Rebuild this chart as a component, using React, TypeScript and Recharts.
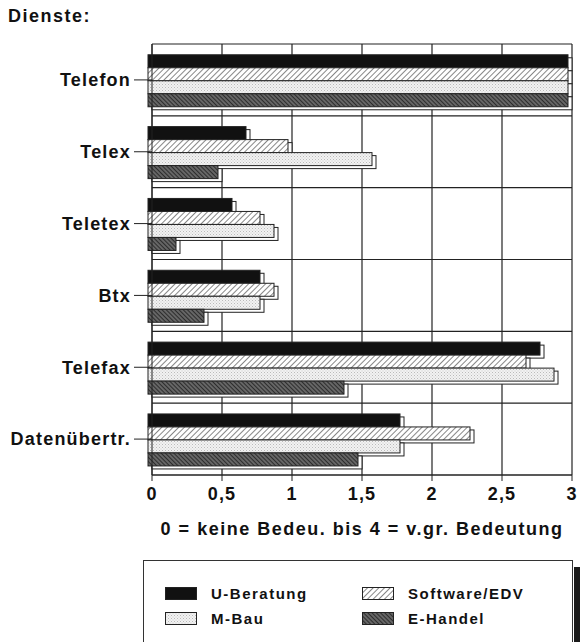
import { BarChart, Bar, XAxis, YAxis, CartesianGrid } from 'recharts'

const DIENSTE = ['Telefon', 'Telex', 'Teletex', 'Btx', 'Telefax', 'Datenübertr.']
const U_BERATUNG = [3, 0.7, 0.6, 0.8, 2.8, 1.8]
const SOFTWARE_EDV = [3, 1.0, 0.8, 0.9, 2.7, 2.3]
const M_BAU = [3, 1.6, 0.9, 0.8, 2.9, 1.8]
const E_HANDEL = [3, 0.5, 0.2, 0.4, 1.4, 1.5]
const X_TICKS = [0, 0.5, 1, 1.5, 2, 2.5, 3]

const SERIES = [
  { key: 'uBeratung', name: 'U-Beratung', fill: '#111' },
  { key: 'software', name: 'Software/EDV', fill: 'url(#hatch-light)' },
  { key: 'mBau', name: 'M-Bau', fill: 'url(#dots)' },
  { key: 'eHandel', name: 'E-Handel', fill: 'url(#hatch-dark)' },
]

const data = DIENSTE.map((d, i) => ({
  dienst: d,
  uBeratung: U_BERATUNG[i],
  software: SOFTWARE_EDV[i],
  mBau: M_BAU[i],
  eHandel: E_HANDEL[i],
}))

const FONT = '"Liberation Sans", Arial, sans-serif'
const TICK_STYLE = { fontSize: 18, fontWeight: 700, fill: '#111', letterSpacing: 1.2 }

function Patterns() {
  return (
    <defs>
      <pattern id="hatch-light" width="4" height="4" patternUnits="userSpaceOnUse" patternTransform="rotate(45)">
        <rect width="4" height="4" fill="#fff" />
        <line x1="0" y1="0" x2="0" y2="4" stroke="#222" strokeWidth="1.1" />
      </pattern>
      <pattern id="dots" width="3" height="3" patternUnits="userSpaceOnUse">
        <rect width="3" height="3" fill="#f2f2f2" />
        <rect x="0" y="0" width="1" height="1" fill="#bbb" />
        <rect x="1.5" y="1.5" width="1" height="1" fill="#ccc" />
      </pattern>
      <pattern id="hatch-dark" width="3" height="3" patternUnits="userSpaceOnUse" patternTransform="rotate(-45)">
        <rect width="3" height="3" fill="#666" />
        <line x1="0" y1="0" x2="0" y2="3" stroke="#1a1a1a" strokeWidth="1.5" />
      </pattern>
    </defs>
  )
}

// bar with a small 3D slab behind it
function SlabBar(props: any) {
  const { x, y, width, height, fill } = props
  if (!width || width <= 0) return null
  return (
    <g>
      <rect x={x} y={y + 3} width={width} height={height} fill="#fff" stroke="#222" strokeWidth={1} />
      <rect x={x - 4} y={y} width={width} height={height} fill={fill} stroke="#222" strokeWidth={1} />
    </g>
  )
}

function Legend() {
  const swatch = (fill: string) => (
    <svg width={32} height={13} style={{ display: 'block' }}>
      <Patterns />
      <rect x={0.5} y={0.5} width={31} height={12} fill={fill} stroke="#222" />
    </svg>
  )
  const item = (i: number, left: number, top: number) => (
    <div
      key={SERIES[i].key}
      style={{ position: 'absolute', left, top, display: 'flex', alignItems: 'center', gap: 14 }}
    >
      {swatch(SERIES[i].fill)}
      <span style={{ fontSize: 15, fontWeight: 700, letterSpacing: 1.5 }}>{SERIES[i].name}</span>
    </div>
  )
  return (
    <div style={{ position: 'absolute', left: 143, top: 560, width: 430, height: 100 }}>
      <div
        style={{ position: 'absolute', left: 431, top: 7, width: 8, height: 100, background: '#1a1a1a' }}
      />
      <div
        style={{
          position: 'absolute',
          inset: 0,
          border: '1.5px solid #333',
          background: '#fff',
        }}
      />
      {item(0, 22, 25)}
      {item(1, 219, 25)}
      {item(2, 22, 50)}
      {item(3, 219, 50)}
    </div>
  )
}

export default function App() {
  return (
    <div
      style={{
        position: 'absolute',
        left: 0,
        top: 0,
        width: 580,
        height: 642,
        overflow: 'hidden',
        background: '#fff',
        fontFamily: FONT,
        color: '#111',
      }}
    >
      <div style={{ position: 'absolute', left: 8, top: 6, fontSize: 18, fontWeight: 700, letterSpacing: 1.5 }}>
        Dienste:
      </div>
      <BarChart
        width={580}
        height={545}
        data={data}
        layout="vertical"
        margin={{ top: 44, right: 8, bottom: 40, left: 0 }}
        barCategoryGap="15%"
        barGap={0}
        style={{ fontFamily: FONT }}
      >
        <Patterns />
        <CartesianGrid
          stroke="#222"
          strokeWidth={1.2}
          horizontalCoordinatesGenerator={({ offset }: any) =>
            DIENSTE.map((_, i) => offset.top + (i * offset.height) / DIENSTE.length).concat(
              offset.top + offset.height,
            )
          }
        />
        <XAxis
          type="number"
          domain={[0, 3]}
          ticks={X_TICKS}
          tickFormatter={(v: number) => String(v).replace('.', ',')}
          tick={TICK_STYLE}
          tickSize={6}
          tickMargin={6}
          stroke="#222"
          axisLine={{ stroke: '#222' }}
          tickLine={{ stroke: '#222' }}
          label={{
            value: '0 = keine Bedeu. bis 4 = v.gr. Bedeutung',
            position: 'insideBottom',
            offset: -30,
            fontSize: 18,
            fontWeight: 700,
            fill: '#111',
            letterSpacing: 1.5,
          }}
        />
        <YAxis
          type="category"
          dataKey="dienst"
          width={152}
          tick={TICK_STYLE}
          tickSize={18}
          tickMargin={3}
          axisLine={{ stroke: '#222' }}
          tickLine={{ stroke: '#222' }}
        />
        {SERIES.map((s) => (
          <Bar
            key={s.key}
            dataKey={s.key}
            name={s.name}
            fill={s.fill}
            shape={SlabBar}
            isAnimationActive={false}
          />
        ))}
      </BarChart>
      <Legend />
    </div>
  )
}
